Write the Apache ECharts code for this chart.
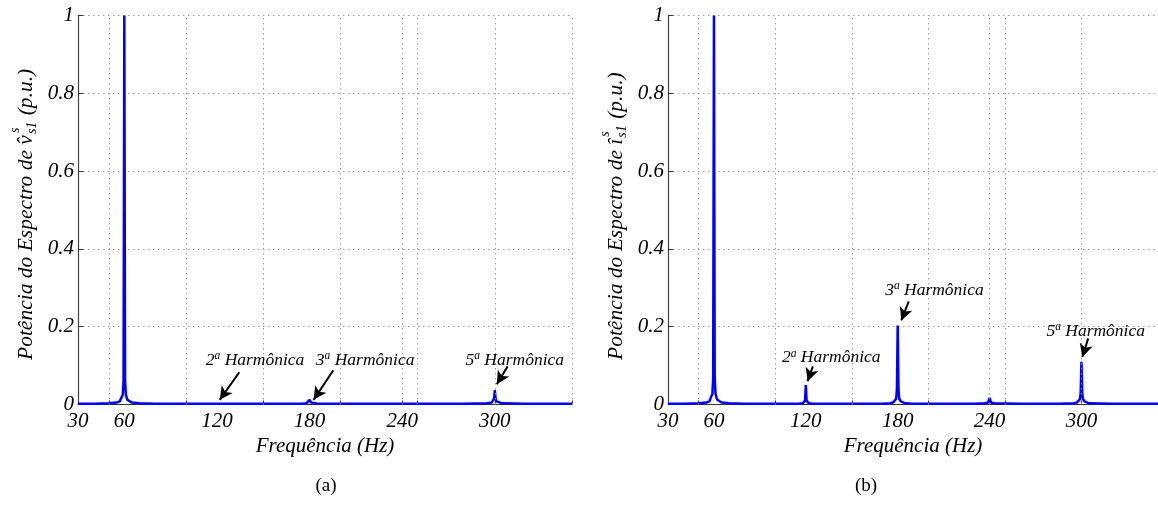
<!DOCTYPE html>
<html>
<head>
<meta charset="utf-8">
<script src="https://cdn.jsdelivr.net/npm/echarts@6/dist/echarts.min.js"></script>
<style>
html,body{margin:0;padding:0;background:#fff;}
#chart{width:1158px;height:532px;}
</style>
</head>
<body>
<div id="chart"></div>
<script>
// ---------- data ----------
const freqA  = [30, 40, 50, 55, 57, 58, 59, 59.5, 60, 60.5, 61, 62, 63, 65, 70, 80, 100, 115, 119, 120, 121, 125, 150, 175, 178, 179, 180, 181, 182, 185, 200, 240, 280, 295, 298, 299, 299.5, 300, 300.5, 301, 302, 305, 320, 350];
const powerA = [0.002, 0.002, 0.003, 0.005, 0.008, 0.012, 0.025, 0.06, 1.0, 0.06, 0.025, 0.012, 0.008, 0.005, 0.003, 0.002, 0.002, 0.002, 0.002, 0.004, 0.002, 0.002, 0.002, 0.002, 0.003, 0.005, 0.012, 0.005, 0.003, 0.002, 0.002, 0.002, 0.002, 0.003, 0.005, 0.008, 0.015, 0.037, 0.015, 0.008, 0.005, 0.003, 0.002, 0.002];

const freqB  = [30, 40, 50, 55, 57, 58, 59, 59.5, 60, 60.5, 61, 62, 63, 65, 70, 80, 87, 88, 89, 100, 115, 118, 119, 119.5, 120, 120.5, 121, 122, 125, 150, 170, 175, 177, 178, 179, 179.5, 180, 180.5, 181, 182, 183, 185, 190, 200, 230, 237, 239, 240, 241, 243, 260, 285, 295, 297, 298, 299, 299.5, 300, 300.5, 301, 302, 303, 305, 320, 350];
const powerB = [0.002, 0.002, 0.003, 0.005, 0.008, 0.013, 0.028, 0.07, 1.0, 0.07, 0.028, 0.013, 0.008, 0.005, 0.003, 0.002, 0.002, 0.004, 0.002, 0.002, 0.002, 0.003, 0.005, 0.01, 0.05, 0.01, 0.005, 0.003, 0.002, 0.002, 0.002, 0.003, 0.005, 0.008, 0.015, 0.04, 0.203, 0.04, 0.015, 0.008, 0.005, 0.003, 0.002, 0.002, 0.002, 0.003, 0.005, 0.017, 0.005, 0.003, 0.002, 0.002, 0.003, 0.005, 0.008, 0.014, 0.03, 0.11, 0.03, 0.014, 0.008, 0.005, 0.003, 0.002, 0.002];

const xTickLabels = [30, 60, 120, 180, 240, 300];
const xGridLines  = [50, 100, 150, 200, 240, 250, 300, 350];

// annotations: harmonic number, label anchor [Hz, p.u.], arrow start, arrow end
const harmonicsA   = ['2', '3', '5'];
const labelPosA    = [[144.7, 0.114], [216.0, 0.114], [312.9, 0.114]];
const arrowFromA   = [[134.5, 0.083], [195.4, 0.088], [308.3, 0.098]];
const arrowToA     = [[121.8, 0.012], [182.6, 0.012], [301.3, 0.052]];

const harmonicsB   = ['2', '3', '5'];
const labelPosB    = [[136.6, 0.120], [204.0, 0.294], [309.3, 0.189]];
const arrowFromB   = [[124.6, 0.098], [187.2, 0.265], [304.4, 0.170]];
const arrowToB     = [[121.2, 0.060], [182.4, 0.216], [300.6, 0.122]];

// ---------- styling ----------
const SERIF = '"Liberation Serif", "Times New Roman", serif';
const BLUE = '#0000ff';

function makeAxes(gridIndex) {
  return {
    x: {
      type: 'value', gridIndex, min: 30, max: 350,
      axisLine: { show: true, lineStyle: { color: '#333', width: 1 } },
      axisTick: { show: true, inside: true, length: 4, customValues: xGridLines, lineStyle: { color: '#333' } },
      axisLabel: { show: true, customValues: xTickLabels, fontFamily: SERIF, fontStyle: 'italic', fontSize: 21, color: '#000', margin: 6 },
      splitLine: { show: false },
      name: 'Frequência (Hz)', nameLocation: 'middle', nameGap: 23,
      nameTextStyle: { fontFamily: SERIF, fontStyle: 'italic', fontSize: 21, color: '#000' }
    },
    y: {
      type: 'value', gridIndex, min: 0, max: 1, interval: 0.2,
      axisLine: { show: true, lineStyle: { color: '#444', width: 1.2 } },
      axisTick: { show: true, inside: true, length: 5, lineStyle: { color: '#333' } },
      axisLabel: { fontFamily: SERIF, fontStyle: 'italic', fontSize: 21, color: '#000', margin: 4,
                   formatter: v => String(+v.toFixed(1)) },
      splitLine: { show: true, lineStyle: { color: '#999', width: 1, type: [1.5, 3.5] } }
    }
  };
}

function seriesFor(idx, freq, power, harm, lblPos, from, to) {
  const out = [];
  out.push({
    type: 'line', xAxisIndex: idx, yAxisIndex: idx, data: [], z: 1, silent: true,
    markLine: { silent: true, symbol: 'none', label: { show: false },
      lineStyle: { color: '#999', width: 1, type: [1.5, 3.5] },
      data: xGridLines.map(x => ({ xAxis: x })) }
  });
  out.push({
    type: 'line', xAxisIndex: idx, yAxisIndex: idx, z: 3,
    data: freq.map((f, i) => [f, power[i]]),
    showSymbol: false, symbol: 'none', smooth: false,
    lineStyle: { color: BLUE, width: 2.5 }, itemStyle: { color: BLUE }
  });
  out.push({
    type: 'line', xAxisIndex: idx, yAxisIndex: idx, data: [], z: 5, silent: true,
    markLine: { silent: true, symbol: ['none', 'arrow'], symbolSize: [10, 13],
      label: { show: false },
      lineStyle: { color: '#000', width: 2, type: 'solid' },
      data: from.map((p, i) => [{ coord: p }, { coord: to[i] }]) },
    markPoint: { silent: true, symbol: 'circle', symbolSize: 1,
      itemStyle: { color: 'rgba(0,0,0,0)' },
      label: {
        show: true, position: 'inside', color: '#000',
        fontFamily: SERIF, fontStyle: 'italic', fontSize: 17.5,
        formatter: p => '{m|' + p.name + '}{s|a}{m| Harmônica}',
        rich: {
          m: { fontFamily: SERIF, fontStyle: 'italic', fontSize: 17.5, lineHeight: 20, color: '#000' },
          s: { fontFamily: SERIF, fontStyle: 'italic', fontSize: 11.5, lineHeight: 12, verticalAlign: 'top', color: '#000' }
        }
      },
      data: lblPos.map((p, i) => ({ name: harm[i], coord: p })) }
  });
  return out;
}

const axA = makeAxes(0), axB = makeAxes(1);

// y-axis title built from parts (hat, stacked super/subscript)
const meas = document.createElement('canvas').getContext('2d');
function w(text, size) { meas.font = 'italic ' + size + 'px "Liberation Serif"'; return meas.measureText(text).width; }
function yTitle(px, py, hatChar) {
  const main = 'Potência do Espectro de ';
  const x1 = w(main, 21.5);
  const x2 = x1 + w(hatChar, 21.5) + 1;
  const x3 = x2 + Math.max(w('s', 14), w('s1', 14)) + 1;
  const fBig = 'italic 21.5px ' + SERIF, fSm = 'italic 14px ' + SERIF;
  return {
    type: 'group', x: px, y: py, rotation: Math.PI / 2, silent: true,
    children: [
      { type: 'text', x: 0,  y: 0,  style: { text: main, font: fBig, fill: '#000', verticalAlign: 'middle', align: 'left' } },
      { type: 'text', x: x1, y: 0,  style: { text: hatChar, font: fBig, fill: '#000', verticalAlign: 'middle', align: 'left' } },
      { type: 'text', x: x2 + 1, y: -11, style: { text: 's', font: fSm, fill: '#000', verticalAlign: 'middle', align: 'left' } },
      { type: 'text', x: x2, y: 6,  style: { text: 's1', font: fSm, fill: '#000', verticalAlign: 'middle', align: 'left' } },
      { type: 'text', x: x3, y: 0,  style: { text: ' (p.u.)', font: fBig, fill: '#000', verticalAlign: 'middle', align: 'left' } }
    ]
  };
}

const option = {
  animation: false,
  backgroundColor: '#fff',
  grid: [
    { left: 78, top: 15.5, width: 494, height: 389, containLabel: false },
    { left: 668, top: 15.5, width: 493, height: 389, containLabel: false }
  ],
  xAxis: [axA.x, axB.x],
  yAxis: [axA.y, axB.y],
  series: [
    ...seriesFor(0, freqA, powerA, harmonicsA, labelPosA, arrowFromA, arrowToA),
    ...seriesFor(1, freqB, powerB, harmonicsB, labelPosB, arrowFromB, arrowToB)
  ],
  graphic: [
    yTitle(26, 360, 'v\u0302'),
    yTitle(616, 360, '\u00ee'),
    { type: 'text', x: 326, y: 486, silent: true, style: { text: '(a)', font: '19px ' + SERIF, fill: '#000', align: 'center', verticalAlign: 'middle' } },
    { type: 'text', x: 866, y: 486, silent: true, style: { text: '(b)', font: '19px ' + SERIF, fill: '#000', align: 'center', verticalAlign: 'middle' } }
  ]
};

const chart = echarts.init(document.getElementById('chart'), null, { renderer: 'canvas' });
chart.setOption(option);
</script>
</body>
</html>
